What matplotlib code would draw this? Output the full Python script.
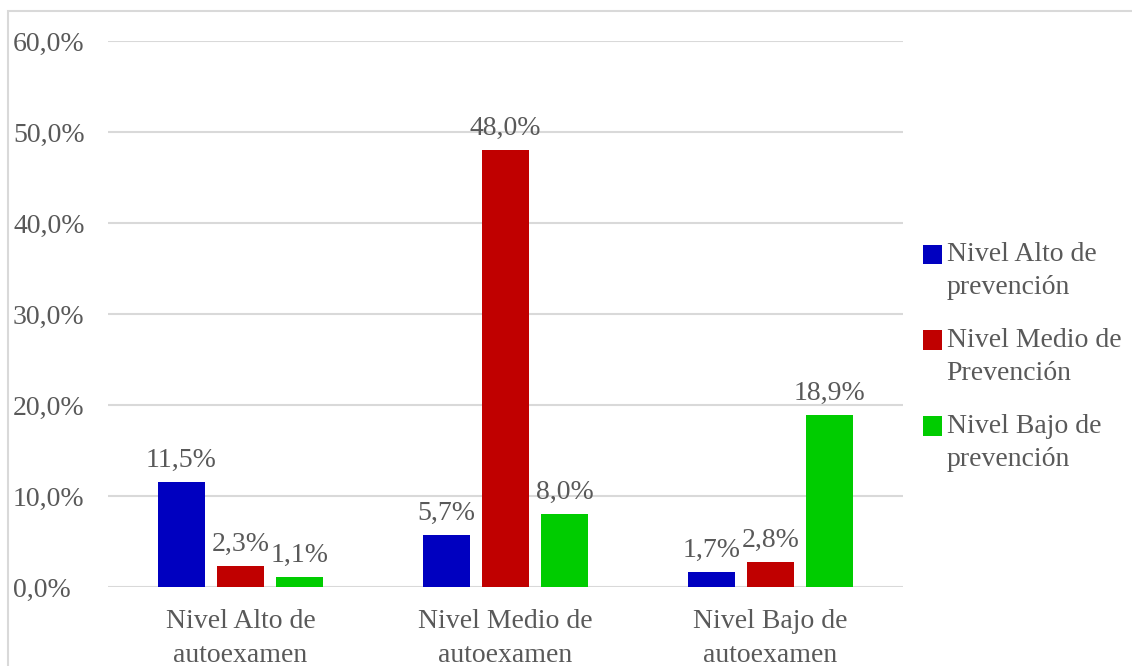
import matplotlib
matplotlib.use("Agg")
import matplotlib.pyplot as plt
from matplotlib.patches import Rectangle
import numpy as np

categories = ["Nivel Alto de\nautoexamen", "Nivel Medio de\nautoexamen", "Nivel Bajo de\nautoexamen"]
series_names = ["Nivel Alto de\nprevención", "Nivel Medio de\nPrevención", "Nivel Bajo de\nprevención"]
alto = [11.5, 5.7, 1.7]
medio = [2.3, 48.0, 2.8]
bajo = [1.1, 8.0, 18.9]
colors = ["#0000C0", "#C00000", "#00CC00"]
yticks = [0, 10, 20, 30, 40, 50, 60]

W, H = 1132, 666
fig = plt.figure(figsize=(W / 100, H / 100), dpi=100)
plt.rcParams['font.family'] = ['Liberation Serif', 'DejaVu Serif']
txt = "#595959"
fs = 20

# outer border (extends beyond the right and bottom edges)
fig.patches.append(Rectangle((8 / W, -0.1), 1.2, (H - 11) / H + 0.1, transform=fig.transFigure,
                             fill=False, edgecolor="#D9D9D9", linewidth=1.5))

ax = fig.add_axes([108 / W, 1 - 587 / H, (903 - 108) / W, (587 - 41) / H])
x = np.arange(len(categories))
width = 0.18
offs = [-0.223, 0.0, 0.223]
for vals, off, c, name in zip([alto, medio, bajo], offs, colors, series_names):
    bars = ax.bar(x + off, vals, width, color=c, label=name, zorder=3)
    for b, v in zip(bars, vals):
        ax.text(b.get_x() + b.get_width() / 2, v + 1.0, f"{v:.1f}%".replace(".", ","),
                ha="center", va="bottom", fontsize=fs, color=txt)

ax.set_xlim(-0.5, 2.5)
ax.set_ylim(0, 60)
ax.set_yticks(yticks)
ax.set_yticklabels([f"{t:.1f}%".replace(".", ",") for t in yticks], fontsize=fs, color=txt)
ax.set_xticks(x)
ax.set_xticklabels(categories, fontsize=fs, color=txt, linespacing=1.45)
ax.tick_params(axis="both", length=0)
ax.tick_params(axis="x", pad=16)
for lab in ax.get_yticklabels():
    lab.set_horizontalalignment("left")
ax.yaxis.set_tick_params(pad=(108 - 13) * 0.72)
ax.grid(axis="y", color="#D9D9D9", linewidth=1.5, zorder=0)
for s in ax.spines.values():
    s.set_visible(False)

leg = fig.legend(loc="center left", bbox_to_anchor=(898 / W, 1 - 357 / H), frameon=False,
                 fontsize=fs, labelcolor=txt, handlelength=0.7, handleheight=0.7,
                 handletextpad=0.15, labelspacing=1.0)
for t in leg.get_texts():
    t.set_linespacing(1.42)
for h in leg.legend_handles:
    h.set_y(h.get_y() + 12)

fig.savefig("out.png", dpi=100)
